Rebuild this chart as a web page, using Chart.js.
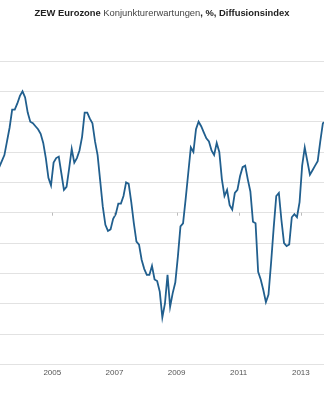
<!DOCTYPE html>
<html>
<head>
<meta charset="utf-8">
<script src="https://cdn.jsdelivr.net/npm/chart.js@4/dist/chart.umd.min.js"></script>
<style>
  html, body { margin: 0; padding: 0; background: #fff; overflow: hidden; }
  #wrap { position: relative; width: 324px; height: 400px; }
  #title { position: absolute; left: 0; top: 7px; width: 324px; text-align: center;
           font-family: "Liberation Sans", Arial, sans-serif; font-size: 9.4px; font-weight: bold;
           color: #222; white-space: nowrap; line-height: 12px; }
  #title .light { font-weight: normal; color: #444; }
</style>
</head>
<body>
<div id="wrap">
  <canvas id="c"></canvas>
  <div id="title">ZEW Eurozone <span class="light">Konjunkturerwartungen</span>, %, Diffusionsindex</div>
</div>
<script>
// Monthly series, starting April 2003
const startYear = 2003;
const startMonth = 4; // April
const values = [
  30, 34, 38, 47, 56, 68, 68, 72, 77,                // 2003 Apr-Dec
  80, 76, 66, 60, 59, 57, 55, 52, 46, 36, 23, 18,    // 2004
  33, 36, 37, 26, 15, 17, 29, 42, 33, 36, 41, 50,    // 2005
  66, 66, 62, 59, 47, 38, 21, 4, -8, -12, -11, -4,   // 2006
  -1, 6, 6, 11, 20, 19, 7, -7, -19, -21, -31, -37,   // 2007
  -41, -41, -35, -44, -45, -52, -69, -60, -41, -62, -53, -46, // 2008
  -29, -9, -7, 9, 26, 43, 40, 55, 60, 57, 53, 49,    // 2009
  47, 41, 38, 46, 40, 22, 11, 15, 5, 2, 13, 15,      // 2010
  24, 30, 31, 22, 14, -6, -7, -39, -44, -51, -59, -54, // 2011
  -33, -10, 11, 13, -5, -20, -22, -21, -3, -1, -3, 7,  // 2012
  31, 43, 34, 25, 28, 31, 34, 47, 59, 60             // 2013 Jan-Oct
];
const tickYears = [2005, 2007, 2009, 2011, 2013];
const tickLabels = ['2005', '2007', '2009', '2011', '2013'];
const yGrid = { min: -100, max: 100, step: 20 };
const xRange = { min: 2003.3167, max: 2013.7447 };

const points = values.map((v, i) => {
  const mIdx = (startMonth - 1) + i;
  return { x: startYear + (mIdx + 0.5) / 12, y: v };
});

const zeroTicks = {
  id: 'zeroTicks',
  afterDraw(chart) {
    const xs = chart.scales.x, ys = chart.scales.y;
    const y0 = ys.getPixelForValue(0);
    const ctx = chart.ctx;
    ctx.save();
    ctx.strokeStyle = '#bbbbbb';
    ctx.lineWidth = 1;
    tickYears.forEach(t => {
      const px = Math.round(xs.getPixelForValue(t)) + 0.5;
      ctx.beginPath();
      ctx.moveTo(px, y0);
      ctx.lineTo(px, y0 + 3);
      ctx.stroke();
    });
    ctx.restore();
  }
};

new Chart(document.getElementById('c'), {
  type: 'line',
  data: {
    datasets: [{
      data: points,
      borderColor: '#215f8e',
      borderWidth: 1.8,
      pointRadius: 0,
      tension: 0,
      fill: false
    }]
  },
  options: {
    responsive: true,
    maintainAspectRatio: false,
    animation: false,
    layout: { padding: { top: 61, bottom: 18, left: 0, right: 0 } },
    plugins: { legend: { display: false }, title: { display: false }, tooltip: { enabled: false } },
    scales: {
      x: {
        type: 'linear',
        min: xRange.min,
        max: xRange.max,
        afterBuildTicks: (scale) => { scale.ticks = tickYears.map(v => ({ value: v })); },
        grid: { display: false, drawTicks: false },
        border: { display: false },
        ticks: {
          autoSkip: false,
          maxRotation: 0,
          padding: 4,
          color: '#555',
          font: { family: '"Liberation Sans", Arial, sans-serif', size: 8 },
          callback: (v) => tickLabels[tickYears.indexOf(v)] ?? ''
        }
      },
      y: {
        min: yGrid.min,
        max: yGrid.max,
        ticks: { display: false, stepSize: yGrid.step },
        grid: { color: '#e2e2e2', lineWidth: 1, drawTicks: false },
        border: { display: false }
      }
    }
  },
  plugins: [zeroTicks]
});
</script>
</body>
</html>
